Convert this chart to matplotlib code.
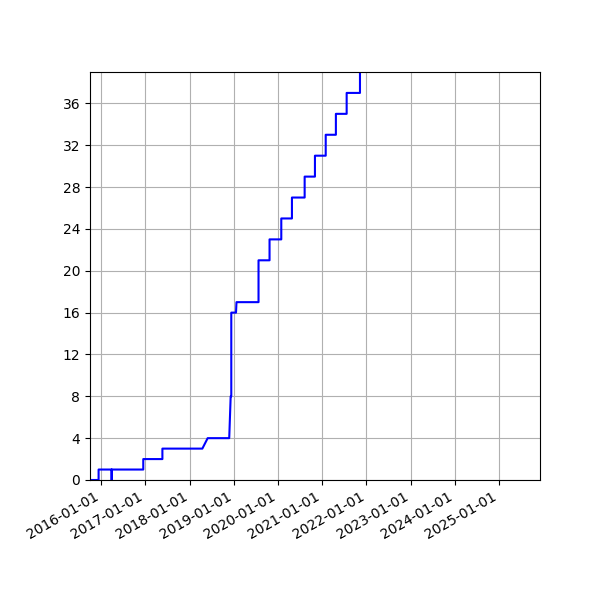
import pandas as pd
import matplotlib
matplotlib.use("Agg")
import matplotlib.pyplot as plt
import matplotlib.dates as mdates

# cumulative count over time
dates = ["2015-09-01", "2015-12-12", "2015-12-12", "2016-03-29", "2016-03-29",
         "2016-03-29", "2016-12-15", "2016-12-15", "2017-05-22", "2017-05-22",
         "2018-04-17", "2018-05-31", "2018-11-25", "2018-12-07", "2018-12-12",
         "2018-12-12", "2019-01-20", "2019-01-24", "2019-07-25", "2019-07-25",
         "2019-10-24", "2019-10-24", "2020-01-29", "2020-01-29", "2020-04-26",
         "2020-04-26", "2020-08-09", "2020-08-09", "2020-11-02", "2020-11-02",
         "2021-01-30", "2021-01-30", "2021-04-24", "2021-04-24", "2021-07-22",
         "2021-07-22", "2021-11-09", "2021-11-09"]
counts = [0, 0, 1, 1, 0,
          1, 1, 2, 2, 3,
          3, 4, 4, 8, 8,
          16, 16, 17, 17, 21,
          21, 23, 23, 25, 25,
          27, 27, 29, 29, 31,
          31, 33, 33, 35, 35,
          37, 37, 41]

x = pd.to_datetime(dates)

fig = plt.figure(figsize=(6, 6), dpi=100)
ax = fig.add_subplot(111)
ax.plot(x, counts, color="blue", linewidth=1.5)

ax.xaxis.set_major_locator(mdates.YearLocator())
ax.xaxis.set_major_formatter(mdates.DateFormatter("%Y-%m-%d"))
ax.yaxis.set_major_locator(plt.MultipleLocator(4))
ax.set_xlim(pd.Timestamp("2015-10-02"), pd.Timestamp("2025-12-05"))
ax.set_ylim(0, 39)
ax.grid(True)

fig.autofmt_xdate()
fig.subplots_adjust(left=0.15, right=0.9, bottom=0.2, top=0.88)
fig.savefig("out.png", dpi=100)
